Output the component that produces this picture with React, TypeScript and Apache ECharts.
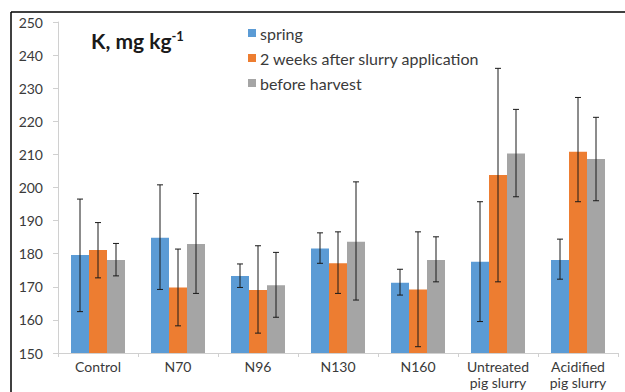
import React, { useEffect, useRef } from "react";
import * as echarts from "echarts";

const categories = ["Control", "N70", "N96", "N130", "N160", "Untreated\npig slurry", "Acidified\npig slurry"];
const seriesNames = ["spring", "2 weeks after slurry application", "before harvest"];

const springMean = [179.6, 184.8, 173.3, 181.6, 171.2, 177.6, 178.1];
const springHigh = [196.5, 200.8, 176.9, 186.3, 175.3, 195.7, 184.4];
const springLow = [162.5, 169.2, 169.8, 177.1, 167.5, 159.5, 172.3];

const weeksMean = [181.1, 169.8, 169.0, 177.1, 169.2, 203.8, 210.8];
const weeksHigh = [189.4, 181.4, 182.4, 186.6, 186.6, 236.0, 227.2];
const weeksLow = [172.7, 158.2, 156.0, 168.0, 151.9, 171.5, 195.7];

const harvestMean = [178.1, 182.9, 170.5, 183.6, 178.1, 210.3, 208.6];
const harvestHigh = [183.1, 198.2, 180.4, 201.7, 185.1, 223.6, 221.2];
const harvestLow = [173.3, 168.0, 160.8, 166.0, 171.5, 197.2, 196.0];

const colors = ["#5B9BD5", "#ED7D31", "#A5A5A5"];
const BAR_W = 18;

export default function App() {
  const ref = useRef<HTMLDivElement>(null);
  useEffect(() => {
    if (!ref.current) return;
    const chart = echarts.init(ref.current, null, { renderer: "svg" });
    const means = [springMean, weeksMean, harvestMean];
    const highs = [springHigh, weeksHigh, harvestHigh];
    const lows = [springLow, weeksLow, harvestLow];
    const font = "Lato, 'Open Sans', sans-serif";

    const barSeries = seriesNames.map((name, i) => ({
      name,
      type: "bar",
      data: means[i],
      barWidth: BAR_W,
      barGap: "0%",
      itemStyle: { color: colors[i] },
    }));

    const errSeries = seriesNames.map((name, i) => ({
      type: "custom",
      name: name + "-err",
      data: categories.map((_, j) => [j, lows[i][j], highs[i][j]]),
      renderItem: (params: any, api: any) => {
        const c = api.value(0);
        const lo = api.coord([c, api.value(1)]);
        const hi = api.coord([c, api.value(2)]);
        const x = lo[0] + (i - 1) * BAR_W;
        const cap = 3;
        const style = { stroke: "#1a1a1a", lineWidth: 1 };
        return {
          type: "group",
          children: [
            { type: "line", shape: { x1: x, y1: hi[1], x2: x, y2: lo[1] }, style },
            { type: "line", shape: { x1: x - cap, y1: hi[1], x2: x + cap, y2: hi[1] }, style },
            { type: "line", shape: { x1: x - cap, y1: lo[1], x2: x + cap, y2: lo[1] }, style },
          ],
        };
      },
      z: 5,
    }));

    chart.setOption({
      animation: false,
      textStyle: { fontFamily: font },
      grid: { left: 58, right: 7, top: 22, bottom: 39, containLabel: false, outerBoundsMode: "none" },
      legend: {
        data: seriesNames,
        orient: "vertical",
        left: 243,
        top: 20,
        icon: "rect",
        itemWidth: 8,
        itemHeight: 8,
        itemGap: 9,
        textStyle: { fontSize: 16, color: "#3a3a3a", fontFamily: font, padding: [0, 0, 0, -1] },
      },
      xAxis: {
        type: "category",
        data: categories,
        axisLine: { lineStyle: { color: "#d0d0d0" } },
        axisTick: { show: true, alignWithLabel: false, lineStyle: { color: "#d0d0d0" }, length: 4 },
        axisLabel: { interval: 0, hideOverlap: false, color: "#3a3a3a", fontSize: 14, lineHeight: 16, margin: 5, fontFamily: font },
      },
      yAxis: {
        type: "value",
        min: 150,
        max: 250,
        interval: 10,
        axisLine: { show: true, lineStyle: { color: "#d0d0d0" } },
        axisTick: { show: true, length: 5, lineStyle: { color: "#d0d0d0" } },
        splitLine: { show: false },
        axisLabel: { color: "#3a3a3a", fontSize: 14, margin: 15, fontFamily: font },
      },
      graphic: [
        {
          type: "line",
          shape: { x1: 11, y1: 12, x2: 625, y2: 12 },
          style: { stroke: "#000", lineWidth: 1.5 },
        },
        {
          type: "line",
          shape: { x1: 11, y1: 12, x2: 11, y2: 392 },
          style: { stroke: "#000", lineWidth: 1.5 },
        },
        {
          type: "text",
          left: 91,
          top: 29,
          style: {
            text: "{a|K, mg kg}{s|-1}",
            rich: {
              a: { fontSize: 21, fontWeight: "bold", fill: "#1a1a1a", fontFamily: font },
              s: { fontSize: 13, fontWeight: "bold", fill: "#1a1a1a", fontFamily: font, verticalAlign: "top", padding: [0, 0, 10, 0] },
            },
          },
        },
      ],
      series: [...barSeries, ...errSeries],
    });
    return () => chart.dispose();
  }, []);
  return <div ref={ref} style={{ position: "fixed", left: 0, top: 0, width: 625, height: 392, background: "#fff" }} />;
}
